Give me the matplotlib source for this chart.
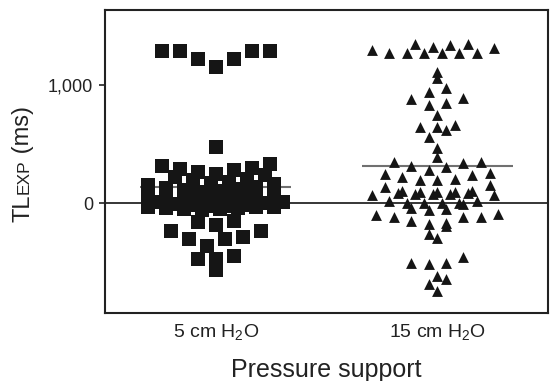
import numpy as np
import matplotlib
matplotlib.use('Agg')
import matplotlib.pyplot as plt

plt.rcParams['font.family'] = ['Liberation Sans', 'DejaVu Sans']
plt.rcParams['mathtext.fontset'] = 'custom'
plt.rcParams['mathtext.rm'] = 'Liberation Sans'

# group labels
groups = [r'5 cm H$_\mathregular{2}$O', r'15 cm H$_\mathregular{2}$O']

# TL_EXP values (ms), 5 cm H2O
ps5 = [1285, 1285, 1220, 1150, 1220, 1285, 1285,
       479,
       330, 315, 300, 290, 280, 265, 250,
       235, 220, 205, 192, 180, 170, 160, 150, 140, 130, 120, 110, 100,
       95, 88, 80, 74, 68, 60, 54, 48, 42, 36, 30, 24, 18, 12, 6, 0,
       -6, -12, -18, -20, -25, -30, -35, -36, -42, -45, -48, -52, -58,
       -155, -160, -185, -235, -235, -285, -300, -300, -360,
       -450, -470, -470, -570]

# TL_EXP values (ms), 15 cm H2O
ps15 = [1270, 1345, 1270, 1335, 1300, 1270, 1270, 1320, 1270, 1345, 1270, 1310,
        1110, 1059, 975, 941, 890, 847, 831, 881, 746, 644, 619, 644, 661, 559, 466, 390,
        347, 347, 305, 314, 339, 280, 246, 220, 195, 203, 237, 254, 195,
        153, 136, 102, 100, 98, 95, 92, 88, 85, 80, 78, 75, 72, 70,
        17, 17, 0, 0, 0, 0, -8, -50, -42, -59,
        -92, -101, -118, -118, -118, -151, -168, -176, -193, -260, -294,
        -454, -504, -504, -513, -613, -639, -681, -740]


def dot_offsets(values, bin_w, origin, max_cols, step):
    # prism-like column scatter: bin the values, spread each bin sideways,
    # crowded bins wrap into extra rows nudged half a column
    values = np.asarray(values, float)
    bins = np.floor((values - origin) / bin_w).astype(int)
    offs = np.zeros(len(values))
    for b in np.unique(bins):
        idx = np.where(bins == b)[0]
        idx = idx[np.argsort(values[idx], kind='stable')]
        n = len(idx)
        ncols = min(n, max_cols)
        slots = np.arange(ncols) - (ncols - 1) / 2
        order = slots[np.argsort(np.abs(slots), kind='stable')]
        for i, j in enumerate(idx):
            layer = i // ncols
            nudge = 0 if n <= max_cols else (-0.25 if layer % 2 == 0 else 0.25)
            offs[j] = (order[i % ncols] + nudge) * step
    return offs


W, H = 551, 381
fig = plt.figure(figsize=(W / 100, H / 100), dpi=100)
ax = fig.add_axes([105 / W, 1 - 313 / H, 443 / W, 303 / H])

ax.axhline(0, color='black', lw=1.1, zorder=1)

x5 = 1 + dot_offsets(ps5, 150, -60, 8, 0.081)
ax.scatter(x5, ps5, marker='s', s=9.4 ** 2, c='#151515', linewidths=0, zorder=3)
x15 = 2 + dot_offsets(ps15, 90, 1260, 8, 0.079)
ax.scatter(x15, ps15, marker='^', s=7.8 ** 2, c='#151515', linewidths=0, zorder=3)

for i, vals in enumerate([ps5, ps15]):
    ax.hlines(np.mean(vals), i + 1 - 0.34, i + 1 + 0.34, color='#707070', lw=1.5, zorder=2)

ax.set_xlim(0.5, 2.5)
ax.set_ylim(-930, 1635)
ax.set_yticks([0, 1000])
ax.set_yticklabels(['0', '1,000'])
ax.set_xticks([1, 2])
ax.set_xticklabels(groups)
ax.tick_params(axis='x', length=0, pad=7, labelsize=14, colors='#222222')
ax.tick_params(axis='y', length=4.5, width=1.2, pad=4, labelsize=13, colors='#222222')
for s in ax.spines.values():
    s.set_linewidth(1.5)
    s.set_color('#222222')
ax.set_xlabel('Pressure support', fontsize=18, labelpad=10.5, color='#222222')

# y label: TL with smaller EXP, then (ms)
fig.canvas.draw()
r = fig.canvas.get_renderer()
y = 1 - 222 / H
for txt, fs in [('TL', 17), ('EXP', 12.5), (' (ms)', 17)]:
    t = fig.text(29 / W, y, txt, fontsize=fs, rotation=90, rotation_mode='anchor',
                 ha='left', va='baseline', color='#222222')
    y += t.get_window_extent(r).height / H

fig.savefig('out.png', dpi=100)
